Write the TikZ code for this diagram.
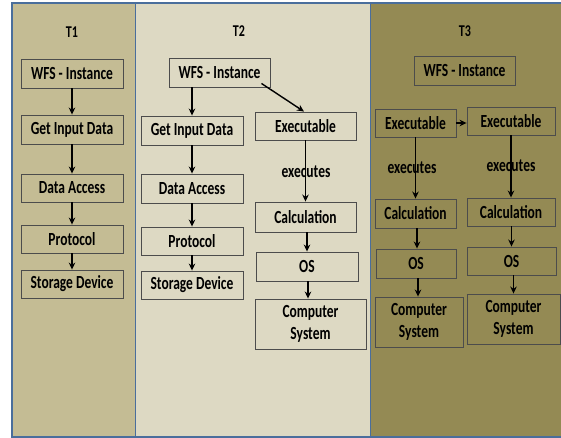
\documentclass[tikz,border=0pt]{standalone}
\usepackage{fontspec}
\setmainfont{Carlito}[FakeStretch=0.73]
\usetikzlibrary{arrows.meta}
\definecolor{tone1}{HTML}{C4BC94}
\definecolor{tone2}{HTML}{DDD9C3}
\definecolor{tone3}{HTML}{948A54}
\definecolor{frame}{HTML}{4A6E9C}
\begin{document}
\begin{tikzpicture}[x=1pt,y=-1pt,
  box/.style={draw=black!70, line width=0.9pt, inner sep=0pt, align=center,
    font=\bfseries\fontsize{18.5}{22}\selectfont},
  title/.style={font=\bfseries\fontsize{16.5}{19}\selectfont},
  lbl/.style={inner sep=0pt, font=\bfseries\fontsize{18.5}{20}\selectfont},
  flow/.style={-{Stealth[length=7pt,width=6.5pt]}, line width=1.4pt, black}]
\useasboundingbox (0,0) rectangle (561,438);

% three tiers
\fill[tone1] (12,3) rectangle (135.5,437);
\fill[tone2] (135.5,3) rectangle (370.5,437);
\fill[tone3] (370.5,3) rectangle (561,437);
\draw[frame, line width=1.6pt] (561,3) -- (12,3) -- (12,437) -- (561,437);
\draw[frame, line width=1.6pt] (135.5,3) -- (135.5,437);
\draw[frame, line width=1.6pt] (370.5,3) -- (370.5,437);

\node[title] (t1) at (72,32) {T1};
\node[title] (t2) at (239,31) {T2};
\node[title] (t3) at (465,31) {T3};

% T1
\node[box, minimum width=102pt, minimum height=29pt] (wfs1) at (72,73.5) {WFS - Instance};
\node[box, minimum width=102pt, minimum height=29pt] (gid1) at (72,129.5) {Get Input Data};
\node[box, minimum width=102pt, minimum height=28pt] (da1) at (72,188) {Data Access};
\node[box, minimum width=102pt, minimum height=28pt] (pr1) at (72,239) {Protocol};
\node[box, minimum width=102pt, minimum height=28pt] (sd1) at (72,284) {Storage Device};
\draw[flow] (wfs1) -- (gid1);
\draw[flow] (gid1) -- (da1);
\draw[flow] (da1) -- (pr1);
\draw[flow] (pr1) -- (sd1);

% T2
\node[box, minimum width=101pt, minimum height=29pt] (wfs2) at (219.5,72.5) {WFS - Instance};
\node[box, minimum width=102pt, minimum height=29pt] (gid2) at (192,130.5) {Get Input Data};
\node[box, minimum width=102pt, minimum height=29pt] (da2) at (192,188.5) {Data Access};
\node[box, minimum width=102pt, minimum height=28pt] (pr2) at (192,241) {Protocol};
\node[box, minimum width=102pt, minimum height=28pt] (sd2) at (192,285) {Storage Device};
\node[box, minimum width=101pt, minimum height=28pt] (exe2) at (305.5,126) {Executable};
\node[box, minimum width=101pt, minimum height=30pt] (calc2) at (305.5,217) {Calculation};
\node[box, minimum width=102pt, minimum height=29pt] (os2) at (307,266.5) {OS};
\node[box, minimum width=111pt, minimum height=50pt] (cs2) at (310.5,324) {Computer\\System};
\node[lbl] (ex2) at (306,172) {executes};
\draw[flow] (wfs2.south -| gid2) -- (gid2);
\draw[flow] (gid2) -- (da2);
\draw[flow] (da2) -- (pr2);
\draw[flow] (pr2) -- (sd2);
\draw[flow] ([xshift=-9pt,yshift=4pt]wfs2.south east) -- ([xshift=-1.5pt]exe2.north);
\draw[flow] (exe2) -- (calc2);
\draw[flow] (calc2.south -| os2) -- (os2);
\draw[flow] ([xshift=1pt]os2.south) -- ([xshift=1pt]os2.south |- cs2.north);

% T3
\node[box, minimum width=101pt, minimum height=29pt] (wfs3) at (464.5,70.5) {WFS - Instance};
\node[box, minimum width=81pt, minimum height=28pt] (exeL) at (415.5,123) {Executable};
\node[box, minimum width=88pt, minimum height=28pt] (exeR) at (511,121) {Executable};
\node[box, minimum width=81pt, minimum height=29pt] (calcL) at (415.5,213.5) {Calculation};
\node[box, minimum width=88pt, minimum height=28pt] (calcR) at (511,212) {Calculation};
\node[box, minimum width=80pt, minimum height=29pt] (osL) at (416,263.5) {OS};
\node[box, minimum width=89pt, minimum height=28pt] (osR) at (511.5,261) {OS};
\node[box, minimum width=88pt, minimum height=50pt] (csL) at (419,322) {Computer\\System};
\node[box, minimum width=93pt, minimum height=50pt] (csR) at (513.5,319) {Computer\\System};
\node[lbl] (exL) at (412,168) {executes};
\node[lbl] (exR) at (511,166) {executes};
\draw[flow] (exeL.east) -- (exeL.east -| exeR.west);
\draw[flow] (exeL) -- (calcL);
\draw[flow] ([xshift=1.5pt]calcL.south) -- ([xshift=1.5pt]calcL.south |- osL.north);
\draw[flow] ([xshift=2pt]osL.south) -- ([xshift=2pt]osL.south |- csL.north);
\draw[flow] (exeR) -- (calcR);
\draw[flow] (calcR.south -| osR) -- (osR);
\draw[flow] ([xshift=2pt]osR.south) -- ([xshift=2pt]osR.south |- csR.north);
\end{tikzpicture}
\end{document}
